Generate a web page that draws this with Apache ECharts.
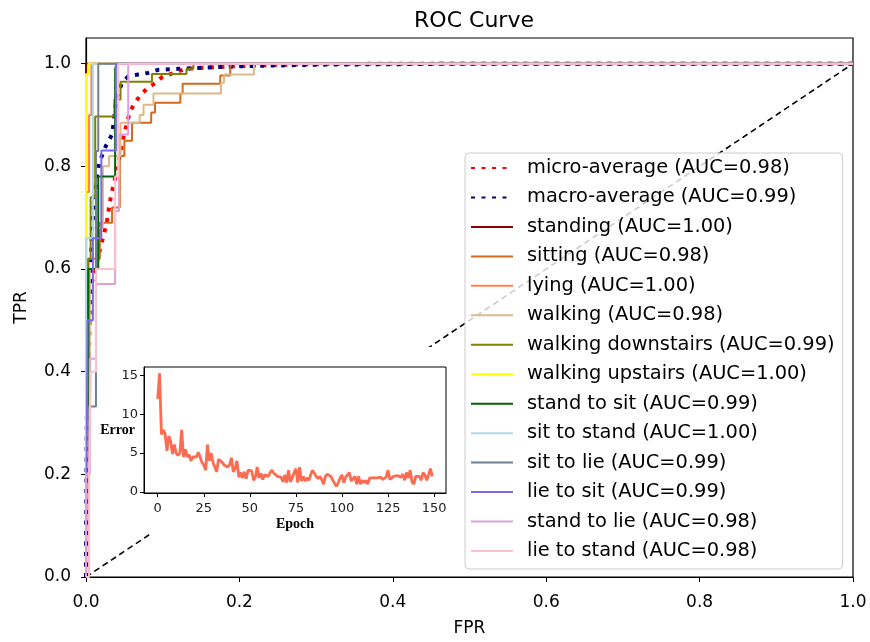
<!DOCTYPE html>
<html>
<head>
<meta charset="utf-8">
<script src="https://cdn.jsdelivr.net/npm/echarts@6/dist/echarts.min.js"></script>
<style>html,body{margin:0;padding:0;background:#fff}#c{width:870px;height:642px}</style>
</head>
<body>
<div id="c"></div>
<script>
// ---------- data ----------
const fprTicks = [0, 0.2, 0.4, 0.6, 0.8, 1.0];
const tprTicks = [0, 0.2, 0.4, 0.6, 0.8, 1.0];
const epochTicks = [0, 25, 50, 75, 100, 125, 150];
const errorTicks = [0, 5, 10, 15];

const seriesNames = [
  'micro-average (AUC=0.98)', 'macro-average (AUC=0.99)',
  'standing (AUC=1.00)', 'sitting (AUC=0.98)', 'lying (AUC=1.00)', 'walking (AUC=0.98)',
  'walking downstairs (AUC=0.99)', 'walking upstairs (AUC=1.00)', 'stand to sit (AUC=0.99)',
  'sit to stand (AUC=1.00)', 'sit to lie (AUC=0.99)', 'lie to sit (AUC=0.99)',
  'stand to lie (AUC=0.98)', 'lie to stand (AUC=0.98)'
];

// ROC curves: [FPR, TPR]
const rocMicro = [[0,0],[0.002,0.25],[0.004,0.45],[0.005,0.52],[0.007,0.57],[0.012,0.6],[0.016,0.625],[0.022,0.66],[0.027,0.69],[0.031,0.73],[0.036,0.765],[0.04,0.79],[0.045,0.83],[0.05,0.865],[0.057,0.905],[0.064,0.925],[0.072,0.94],[0.08,0.952],[0.09,0.962],[0.1,0.975],[0.115,0.982],[0.13,0.99],[0.18,0.994],[0.23,0.997],[0.3,0.999],[0.4,1],[1,1]];
const rocMacro = [[0,0],[0.001,0.3],[0.003,0.5],[0.006,0.6],[0.008,0.68],[0.011,0.74],[0.014,0.78],[0.018,0.81],[0.026,0.84],[0.034,0.862],[0.036,0.885],[0.037,0.9],[0.04,0.934],[0.047,0.963],[0.055,0.975],[0.068,0.979],[0.081,0.982],[0.094,0.988],[0.12,0.99],[0.15,0.992],[0.2,0.995],[0.3,0.998],[0.5,1],[1,1]];
const rocStanding = [[0,0],[0,1],[1,1]];
const rocSitting = [[0,0],[0,0.45],[0.003,0.45],[0.003,0.62],[0.018,0.62],[0.018,0.69],[0.034,0.69],[0.034,0.72],[0.044,0.72],[0.044,0.82],[0.05,0.82],[0.05,0.85],[0.06,0.85],[0.06,0.885],[0.085,0.885],[0.085,0.905],[0.09,0.905],[0.09,0.924],[0.123,0.924],[0.123,0.942],[0.126,0.942],[0.126,0.961],[0.175,0.961],[0.175,0.977],[0.188,0.977],[0.188,0.994],[0.19,0.994],[0.19,1],[1,1]];
const rocLying = [[0,0],[0,0.75],[0.004,0.75],[0.004,0.9],[0.007,0.9],[0.007,1],[1,1]];
const rocWalking = [[0,0],[0,0.3],[0.005,0.3],[0.005,0.6],[0.015,0.6],[0.015,0.68],[0.022,0.68],[0.022,0.8],[0.03,0.8],[0.03,0.82],[0.045,0.82],[0.045,0.885],[0.07,0.885],[0.07,0.9],[0.075,0.9],[0.075,0.92],[0.088,0.92],[0.088,0.942],[0.176,0.942],[0.176,0.963],[0.18,0.963],[0.18,0.979],[0.219,0.979],[0.219,1],[1,1]];
const rocDownstairs = [[0,0],[0,0.33],[0.003,0.33],[0.003,0.62],[0.006,0.62],[0.006,0.74],[0.012,0.74],[0.012,0.897],[0.037,0.897],[0.037,0.93],[0.045,0.93],[0.045,0.965],[0.086,0.965],[0.086,0.98],[0.131,0.98],[0.131,0.99],[0.14,0.99],[0.14,1],[1,1]];
const rocUpstairs = [[0,0],[0,0.98],[0.003,0.98],[0.003,1],[1,1]];
const rocStandToSit = [[0,0],[0,0.33],[0.003,0.33],[0.003,0.6],[0.016,0.6],[0.016,0.78],[0.038,0.78],[0.038,0.99],[0.04,0.99],[0.04,1],[1,1]];
const rocSitToStand = [[0,0],[0,0.66],[0.009,0.66],[0.009,1],[1,1]];
const rocSitToLie = [[0,0],[0.004,0],[0.004,0.332],[0.013,0.332],[0.013,0.83],[0.016,0.83],[0.016,1],[1,1]];
const rocLieToSit = [[0,0],[0.002,0],[0.002,0.5],[0.009,0.5],[0.009,0.66],[0.02,0.66],[0.02,0.831],[0.039,0.831],[0.039,1],[1,1]];
const rocStandToLie = [[0,0],[0,0.2],[0.005,0.2],[0.005,0.425],[0.013,0.425],[0.013,0.571],[0.038,0.571],[0.038,0.713],[0.043,0.713],[0.043,0.862],[0.055,0.862],[0.055,1],[1,1]];
const rocLieToStand = [[0,0],[0.004,0],[0.004,0.198],[0.006,0.198],[0.006,0.4],[0.013,0.4],[0.013,0.6],[0.038,0.6],[0.038,0.78],[0.042,0.78],[0.042,1],[1,1]];
const diagonal = [[0,0],[1,1]];

// inset: training error per epoch
const errorValues = [12.0,15.3,7.4,8.0,7.5,5.3,7.2,6.5,4.9,6.1,
  5.0,4.7,5.0,8.0,4.5,5.5,4.5,4.8,4.0,4.5,
  4.7,4.5,5.1,4.5,3.8,3.5,2.8,6.1,4.0,5.0,
  3.8,3.9,2.6,4.2,4.4,3.8,3.5,3.6,3.2,3.5,
  4.4,2.6,3.0,4.0,1.9,2.5,1.8,2.6,1.7,2.8,
  2.8,2.7,1.5,1.9,3.2,1.8,2.4,1.6,2.2,2.2,
  2.0,2.5,2.8,2.4,2.4,2.0,1.8,1.9,1.3,2.2,
  1.2,2.8,1.3,1.8,2.5,3.0,1.2,3.2,1.4,2.0,
  1.4,1.8,1.5,2.2,2.8,2.6,2.0,1.7,2.0,1.6,
  1.0,2.0,2.3,2.5,2.0,1.5,1.3,0.7,1.2,1.8,
  2.2,1.2,1.9,2.1,2.5,1.4,1.2,2.0,1.0,2.0,
  1.0,1.5,1.2,1.5,1.0,1.8,1.6,1.8,1.8,1.8,
  1.8,1.9,1.6,1.5,1.9,2.8,1.6,1.8,2.0,2.2,
  2.1,2.2,1.9,2.3,1.5,2.5,1.8,2.8,1.3,1.0,
  2.0,1.9,2.0,1.5,2.5,2.2,1.5,2.2,3.0,2.0];

// ---------- styles ----------
const curves = [rocMicro, rocMacro, rocStanding, rocSitting, rocLying, rocWalking, rocDownstairs,
  rocUpstairs, rocStandToSit, rocSitToStand, rocSitToLie, rocLieToSit, rocStandToLie, rocLieToStand];
const colors = ['#ff0000', '#000080', '#8b0000', '#d2691e', '#ff7f50', '#deb887', '#808000',
  '#ffff00', '#006400', '#add8e6', '#708090', '#7b68ee', '#dda0dd', '#ffc0cb'];

const FONT = 'DejaVu Sans';
const SERIF = '"Liberation Serif", "DejaVu Serif", serif';

const series = curves.map((d, i) => ({
  name: seriesNames[i],
  type: 'line',
  xAxisIndex: 0, yAxisIndex: 0,
  data: d,
  symbol: 'none',
  silent: true,
  animation: false,
  z: 2,
  lineStyle: i < 2
    ? { color: colors[i], width: 4, type: [4, 6.5], cap: 'butt' }
    : { color: colors[i], width: 2 },
  itemStyle: { color: colors[i] }
}));
series.unshift({
  name: 'chance', type: 'line', xAxisIndex: 0, yAxisIndex: 0, data: diagonal, symbol: 'none',
  silent: true, animation: false, z: 2,
  lineStyle: { color: '#000', width: 1.6, type: [6, 4] }
});
series.push({
  name: 'error', type: 'line', xAxisIndex: 1, yAxisIndex: 1,
  data: errorValues.map((v, i) => [i, v]),
  symbol: 'none', silent: true, animation: false, z: 30,
  lineStyle: { color: '#ff6347', width: 2.8, opacity: 0.95 }
});

const chart = echarts.init(document.getElementById('c'), null, { renderer: 'canvas' });
chart.setOption({
  animation: false,
  backgroundColor: '#fff',
  title: {
    text: 'ROC Curve', left: 469, top: 5, textAlign: 'center',
    textStyle: { fontFamily: FONT, fontSize: 22, fontWeight: 'normal', color: '#000' }
  },
  legend: {
    data: seriesNames,
    left: 465, top: 153,
    orient: 'vertical',
    itemWidth: 42, itemHeight: 14, itemGap: 7.46,
    padding: [4, 8, 7, 5],
    backgroundColor: 'rgba(255,255,255,0.8)',
    borderColor: '#cccccc', borderWidth: 1, borderRadius: 4,
    itemStyle: { opacity: 0, borderWidth: 0 },
    textStyle: { fontFamily: FONT, fontSize: 19.4, color: '#000', lineHeight: 22, padding: [0, 0, 0, 9] },
    selectedMode: false,
    z: 6
  },
  graphic: [{
    type: 'rect', shape: { x: 98, y: 347, width: 352, height: 186 },
    style: { fill: '#fff' }, z: 10, silent: true
  }],
  grid: [
    { left: 86, right: 17, top: 38, bottom: 63, show: true, borderColor: '#000', borderWidth: 1.2, containLabel: false },
    { left: 144, right: 424, top: 367, bottom: 149, show: true, borderColor: '#000', borderWidth: 1, backgroundColor: '#fff', z: 20 }
  ],
  xAxis: [
    {
      gridIndex: 0, type: 'value', min: 0, max: 1,
      name: 'FPR', nameLocation: 'middle', nameGap: 43,
      nameTextStyle: { fontFamily: FONT, fontSize: 17, color: '#000' },
      axisLine: { show: true, lineStyle: { color: '#000', width: 1.2 } },
      axisTick: { show: true, length: 5, lineStyle: { color: '#000' }, customValues: fprTicks },
      axisLabel: { fontFamily: FONT, fontSize: 17, color: '#000', margin: 17, customValues: fprTicks, formatter: v => v.toFixed(1) },
      splitLine: { show: false }
    },
    {
      gridIndex: 1, type: 'value', min: -7.45, max: 156.45, z: 25,
      name: 'Epoch', nameLocation: 'middle', nameGap: 24, nameMoveOverlap: false,
      nameTextStyle: { fontFamily: SERIF, fontSize: 14, fontWeight: 'bold', color: '#000' },
      axisLine: { show: true, onZero: false, lineStyle: { color: '#000', width: 1 } },
      axisTick: { show: true, length: 4, lineStyle: { color: '#000' }, customValues: epochTicks },
      axisLabel: { fontFamily: FONT, fontSize: 13, color: '#222', margin: 9, customValues: epochTicks },
      splitLine: { show: false }
    }
  ],
  yAxis: [
    {
      gridIndex: 0, type: 'value', min: 0, max: 1.05,
      name: 'TPR', nameLocation: 'middle', nameGap: 56, nameRotate: 90,
      nameTextStyle: { fontFamily: FONT, fontSize: 17, color: '#000' },
      axisLine: { show: true, lineStyle: { color: '#000', width: 1.2 } },
      axisTick: { show: true, length: 5, lineStyle: { color: '#000' }, customValues: tprTicks },
      axisLabel: { fontFamily: FONT, fontSize: 17, color: '#000', margin: 15, customValues: tprTicks, formatter: v => v.toFixed(1) },
      splitLine: { show: false }
    },
    {
      gridIndex: 1, type: 'value', min: -0.14, max: 16.1, z: 25,
      name: 'Error', nameLocation: 'middle', nameGap: 9, nameRotate: 0, nameMoveOverlap: false,
      nameTextStyle: { fontFamily: SERIF, fontSize: 14, fontWeight: 'bold', color: '#000', padding: [24, 0, 0, 0] },
      axisLine: { show: true, onZero: false, lineStyle: { color: '#000', width: 1 } },
      axisTick: { show: true, length: 4, lineStyle: { color: '#000' }, customValues: errorTicks },
      axisLabel: { fontFamily: FONT, fontSize: 13, color: '#222', margin: 6, customValues: errorTicks },
      splitLine: { show: false }
    }
  ],
  series: series
});
</script>
</body>
</html>
